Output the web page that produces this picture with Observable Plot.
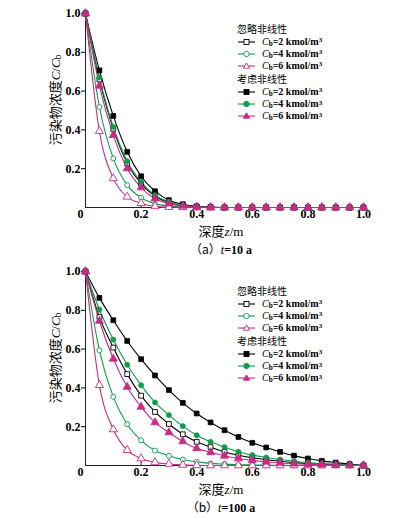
<!DOCTYPE html>
<html><head><meta charset="utf-8">
<script src="https://cdn.jsdelivr.net/npm/d3@7"></script>
<script src="https://cdn.jsdelivr.net/npm/@observablehq/plot@0.6"></script>
<style>
body{margin:0;background:#fff;}
#root{position:relative;width:393px;height:518px;overflow:hidden;font-family:"Liberation Serif",serif;color:#000;}
#root svg.plot{position:absolute;left:0;}
.abs{position:absolute;white-space:nowrap;line-height:1;}
.c{transform:translate(-50%,-50%);}
.cjk{font-family:"Noto Sans CJK SC",sans-serif;}
.lt{font-family:"Noto Sans CJK SC",sans-serif;font-size:10px;line-height:10px;height:10px;}
.row{display:flex;align-items:center;font-weight:bold;font-size:10px;line-height:10px;height:10px;}
.row svg{margin-right:6px;}
.sub{font-size:0.72em;position:relative;top:0.15em;line-height:0;}
.sup{font-size:0.7em;position:relative;top:-0.35em;line-height:0;}
</style></head><body><div id="root"></div>
<script>
const depth = [0,0.05,0.1,0.15,0.2,0.25,0.3,0.35,0.4,0.45,0.5,0.55,0.6,0.65,0.7,0.75,0.8,0.85,0.9,0.95,1.0];

// (a) t = 10 a
const aLinCb2 = [1,0.66,0.405,0.228,0.124,0.058,0.026,0.011,0.004,0.001,0,0,0,0,0,0,0,0,0,0,0];
const aLinCb4 = [1,0.518,0.253,0.115,0.05,0.02,0.007,0.002,0.001,0,0,0,0,0,0,0,0,0,0,0,0];
const aLinCb6 = [1,0.393,0.15,0.055,0.022,0.006,0.002,0.001,0,0,0,0,0,0,0,0,0,0,0,0,0];
const aNonCb2 = [1,0.707,0.472,0.287,0.161,0.084,0.038,0.017,0.006,0.002,0,0,0,0,0,0,0,0,0,0,0];
const aNonCb4 = [1,0.67,0.415,0.239,0.132,0.063,0.029,0.012,0.004,0.001,0,0,0,0,0,0,0,0,0,0,0];
const aNonCb6 = [1,0.627,0.373,0.201,0.103,0.046,0.02,0.008,0.003,0.001,0,0,0,0,0,0,0,0,0,0,0];

// (b) t = 100 a
const bLinCb2 = [1,0.765,0.608,0.471,0.36,0.276,0.214,0.161,0.122,0.095,0.07,0.053,0.04,0.03,0.022,0.015,0.01,0.007,0.004,0.002,0];
const bLinCb4 = [1,0.594,0.354,0.213,0.13,0.077,0.05,0.031,0.019,0.011,0.007,0.004,0.003,0.002,0.001,0,0,0,0,0,0];
const bLinCb6 = [1,0.414,0.186,0.079,0.036,0.016,0.008,0.003,0.001,0,0,0,0,0,0,0,0,0,0,0,0];
const bNonCb2 = [1,0.864,0.749,0.642,0.548,0.464,0.389,0.323,0.268,0.222,0.182,0.147,0.117,0.093,0.07,0.051,0.036,0.024,0.015,0.007,0];
const bNonCb4 = [1,0.804,0.649,0.519,0.414,0.325,0.26,0.203,0.156,0.122,0.095,0.071,0.054,0.041,0.031,0.022,0.015,0.01,0.006,0.003,0];
const bNonCb6 = [1,0.745,0.55,0.405,0.302,0.222,0.17,0.124,0.088,0.068,0.05,0.036,0.026,0.019,0.013,0.009,0.006,0.004,0.002,0.001,0];

const xTicks = [0.2,0.4,0.6,0.8,1.0];
const xZeroTick = [0];
const yTicks = [0.2,0.4,0.6,0.8,1.0];
const cbValues = [2,4,6];
const groupTitles = ["忽略非线性","考虑非线性"];
const panelCaptions = [["（a）","t","=10 a"],["（b）","t","=100 a"]];
const xLabel = ["深度","z","/m"];
const yLabel = "污染物浓度";

const colors = ["#000000","#0f9b4a","#c92a84"];
const symbols = ["square","circle","triangle"];
const radii = [2.7,2.5,3.0];

const W = 393, H = 222, ML = 85, MR = 30, MT = 13, MB = 15;
const root = document.getElementById("root");

function makePanel(lin, non, top, legendTop, caption) {
  const series = [];
  lin.forEach((vals,i)=>series.push({vals, i, filled:false}));
  non.forEach((vals,i)=>series.push({vals, i, filled:true}));
  const marks = [
    Plot.ruleX([0], {stroke:"#222", strokeWidth:1}),
    Plot.ruleY([0], {stroke:"#222", strokeWidth:1}),
    Plot.tickX(xTicks, {x:d=>d, insetTop: H-MT-MB-4, stroke:"#222"}),
    Plot.axisY(yTicks, {tickSize:4, tickPadding:1, tickFormat:d3.format(".1f"), label:null}),
    Plot.axisX(xTicks, {tickSize:0, tickPadding:2, tickFormat:d3.format(".1f"), label:null}),
    Plot.axisX(xZeroTick, {tickSize:0, tickPadding:2, tickFormat:d=>"0", dx:-5, label:null})
  ];
  for (const s of series) {
    const rows = depth.map((z,j)=>({z, c:s.vals[j]}));
    marks.push(Plot.line(rows, {x:"z", y:"c", stroke:colors[s.i], strokeWidth:1.1, curve:"monotone-x"}));
  }
  for (const s of series) {
    const rows = depth.map((z,j)=>({z, c:s.vals[j]}));
    marks.push(Plot.dot(rows, {x:"z", y:"c", symbol:symbols[s.i], r:radii[s.i],
      fill: s.filled ? colors[s.i] : "white", stroke: colors[s.i], strokeWidth: s.filled ? 0.8 : 0.9}));
  }
  const svg = Plot.plot({
    width: W, height: H, marginLeft: ML, marginRight: MR, marginTop: MT, marginBottom: MB,
    x: {domain:[0,1], label:null},
    y: {domain:[0,1], label:null},
    style: {fontFamily:"'Liberation Serif', serif", fontSize:"12px", fontWeight:"bold", color:"#000", background:"transparent", overflow:"visible"},
    marks
  });
  svg.classList.add("plot");
  svg.style.top = top + "px";
  root.appendChild(svg);

  // y label
  const yl = document.createElement("div");
  yl.className = "abs";
  yl.style.left = "55px"; yl.style.top = (top + 100) + "px";
  yl.style.transform = "translate(-50%,-50%) rotate(-90deg)";
  yl.style.fontSize = "13px";
  yl.innerHTML = `<span class="cjk">${yLabel}</span><i>C</i>/<i>C</i><span class="sub">b</span>`;
  root.appendChild(yl);

  // x label
  const xl = document.createElement("div");
  xl.className = "abs c";
  xl.style.left = "221px"; xl.style.top = (top + 230.5) + "px";
  xl.style.fontSize = "13px";
  xl.innerHTML = `<span class="cjk">${xLabel[0]}</span><i>${xLabel[1]}</i>${xLabel[2]}`;
  root.appendChild(xl);

  // caption
  const cp = document.createElement("div");
  cp.className = "abs c";
  cp.style.left = "221px"; cp.style.top = (top + 248.5) + "px";
  cp.style.fontSize = "12px";
  cp.innerHTML = `<span class="cjk">${caption[0]}</span><i>${caption[1]}</i><b>${caption[2]}</b>`;
  root.appendChild(cp);

  // legend
  let y = legendTop;
  for (let g = 0; g < 2; g++) {
    const t = document.createElement("div");
    t.className = "abs lt";
    t.style.left = "237px"; t.style.top = (y - 5) + "px";
    t.textContent = groupTitles[g];
    root.appendChild(t);
    y += 13;
    for (let i = 0; i < 3; i++) {
      const r = document.createElement("div");
      r.className = "abs row";
      r.style.left = "238px"; r.style.top = (y - 5) + "px";
      const col = colors[i];
      const fill = g === 1 ? col : "white";
      let sym;
      if (i === 0) sym = `<rect x="6" y="2.5" width="5" height="5" fill="${fill}" stroke="${col}" stroke-width="0.9"/>`;
      else if (i === 1) sym = `<circle cx="8.5" cy="5" r="2.7" fill="${fill}" stroke="${col}" stroke-width="0.9"/>`;
      else sym = `<path d="M8.5,1.8L11.6,7.2L5.4,7.2Z" fill="${fill}" stroke="${col}" stroke-width="0.9"/>`;
      r.innerHTML = `<svg width="18" height="10" viewBox="0 0 18 10"><line x1="0" y1="5" x2="17" y2="5" stroke="${col}" stroke-width="1.1"/>${sym}</svg><span><i style="font-weight:normal">C</i><span class="sub">b</span>=${cbValues[i]} kmol/m<span class="sup">3</span></span>`;
      root.appendChild(r);
      y += (i === 2) ? 13 : 12.2;
    }
  }
}

makePanel([aLinCb2,aLinCb4,aLinCb6],[aNonCb2,aNonCb4,aNonCb6], 0, 28.5, panelCaptions[0]);
makePanel([bLinCb2,bLinCb4,bLinCb6],[bNonCb2,bNonCb4,bNonCb6], 258, 290.5, panelCaptions[1]);
</script>
</body></html>
